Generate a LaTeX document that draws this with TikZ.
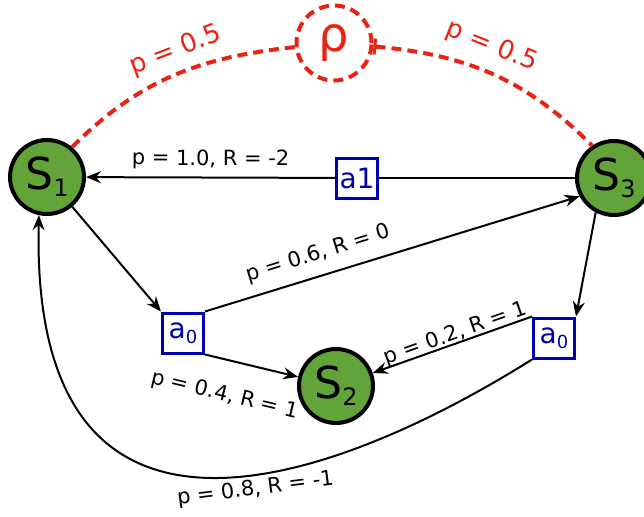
\documentclass[tikz,border=0pt]{standalone}
\usepackage{fontspec}
\setmainfont{DejaVu Sans}
\usetikzlibrary{arrows.meta}

\definecolor{stategreen}{RGB}{98,163,58}
\definecolor{actblue}{RGB}{0,0,175}
\definecolor{rhored}{RGB}{232,35,20}

% lowered index for state and action names
\newcommand{\lowidx}[3]{\raisebox{-#2pt}{\fontsize{#1}{#1}\selectfont #3}}

\tikzset{
  state/.style={circle, draw, line width=4pt, fill=stategreen, minimum size=74pt, inner sep=0pt, font=\fontsize{44}{44}\selectfont},
  action/.style={rectangle, draw=actblue, text=actblue, line width=3pt, fill=white, minimum width=41pt, minimum height=40pt, inner sep=2pt, font=\fontsize{28}{28}\selectfont},
  trans/.style={-{Stealth[length=15pt,width=12pt,inset=5pt]}, line width=2pt},
  prob/.style={font=\fontsize{21}{21}\selectfont, sloped, inner sep=2pt},
  bigprob/.style={font=\fontsize{26}{26}\selectfont, sloped, inner sep=2pt},
  rholink/.style={rhored, line width=4pt, dash pattern=on 10pt off 6pt},
}

\begin{document}
\begin{tikzpicture}[x=1pt, y=-1pt]
  \useasboundingbox (0,0) rectangle (644,516);

  % States
  \node[state] (s1) at (47,177) {S\lowidx{24}{7}{1}};
  \node[state] (s2) at (336,386) {S\lowidx{24}{7}{2}};
  \node[state] (s3) at (614,178) {S\lowidx{24}{7}{3}};

  % Actions
  \node[action] (a1) at (357,178) {a1};
  \node[action] (a0l) at (183,333) {a\lowidx{18}{5}{0}};
  \node[action] (a0r) at (554,338) {a\lowidx{18}{5}{0}};

  % Reset node
  \node[circle, rholink, draw, minimum size=75pt, inner sep=0pt, text=rhored, font=\fontsize{48}{48}\selectfont] (rho) at (334,43) {ρ};

  % Dashed links to the reset node
  \draw[rholink] (s1.50) to[out=45, in=186] node[bigprob, above=6pt, pos=0.55] {p = 0.5} (rho);
  \draw[rholink, {Bar[width=16pt, line width=3pt]}-] (rho) to[out=-5, in=135] node[bigprob, above=9pt, pos=0.45] {p = 0.5} (s3.124);

  % Action a1
  \draw[line width=2pt] (s3) -- (a1);
  \draw[trans] (a1) -- node[prob, above=5pt] {p = 1.0, R = -2} (s1);

  % Action a0 from S1
  \draw[trans] (s1) -- (a0l.north west);
  \draw[trans] (a0l.north east) -- node[prob, above=9pt, pos=0.32] {p = 0.6, R = 0} (s3.208);
  \draw[trans] (a0l.south east) -- node[prob, below=22pt, pos=0.3] {p = 0.4, R = 1} (s2);

  % Action a0 from S3
  \draw[trans] (s3.-118) -- (a0r.north east);
  \draw[trans] (a0r.north west) -- node[prob, above=-4pt, pos=0.46] {p = 0.2, R = 1} (s2);
  \draw[trans] (a0r.south west) .. controls (340,480) and (30,600) .. node[prob, below=2pt, pos=0.43] {p = 0.8, R = -1} (s1.-102);
\end{tikzpicture}
\end{document}
